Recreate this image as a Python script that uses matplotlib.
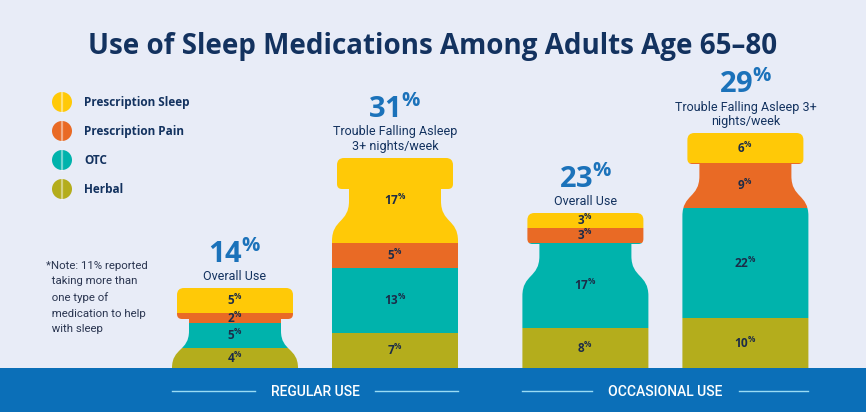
import matplotlib.pyplot as plt
from matplotlib.path import Path
from matplotlib.patches import PathPatch, Circle, Rectangle
from matplotlib.transforms import blended_transform_factory

plt.rcParams["mathtext.fontset"] = "custom"
plt.rcParams["mathtext.rm"] = "Open Sans:bold"
plt.rcParams["mathtext.bf"] = "Open Sans:bold"

# Data
series = ["Prescription Sleep", "Prescription Pain", "OTC", "Herbal"]
colors = ["#FFC907", "#E96A25", "#00B3AC", "#B4AD1C"]
groups = ["REGULAR USE", "OCCASIONAL USE"]
headline = ["14", "31", "23", "29"]
subtitles = ["Overall Use", "Trouble Falling Asleep\n3+ nights/week",
             "Overall Use", "Trouble Falling Asleep 3+\nnights/week"]
# values per bar, listed bottom to top: Herbal, OTC, Rx Pain, Rx Sleep
herbal = [4, 7, 8, 10]
otc = [5, 13, 17, 22]
rx_pain = [2, 5, 3, 9]
rx_sleep = [5, 17, 3, 6]

BG = "#E8ECF7"
NAVY = "#13325F"
BLUE = "#1B72BA"
BAND = "#0B6FB8"

W, H = 866, 412
band_top = 368
px_per_pct = 5.0
px_per_x = 160.0
x0_px = 235.0

fig = plt.figure(figsize=(W / 100, H / 100), dpi=100, facecolor=BG)
ax = fig.add_axes([0, (H - band_top) / H, 1, band_top / H])
ax.set_facecolor("none")
ax.set_xlim(-x0_px / px_per_x, (W - x0_px) / px_per_x)
ax.set_ylim(0, band_top / px_per_pct)
ax.axis("off")

# overlay in pixel coordinates for title, legend, note, band
ov = fig.add_axes([0, 0, 1, 1], zorder=-1)
ov.set_xlim(0, W)
ov.set_ylim(H, 0)
ov.axis("off")
ov.set_facecolor("none")

xpos = [0, 1, 2.19, 3.19]
width = 126 / px_per_x
sx = 1 / px_per_x
sy = 1 / px_per_pct


def pct(n):
    return r"$\mathrm{" + n + r"}^{\%}$"


def bottle(xc, top):
    # silhouette in pixel offsets (dx from centre, dy down from top)
    h = top / sy
    hb, hn, hc = 63, 46, 58
    cap_h, r, r2 = 31, 7, 5
    n_end = min(cap_h + 12, h)
    s_end = min(n_end + 40, h)
    c = (s_end - n_end) * 0.55
    pts = [((-hb, h), Path.MOVETO), ((-hb, s_end), Path.LINETO),
           ((-hb, s_end - c), Path.CURVE4), ((-hn, n_end + c), Path.CURVE4),
           ((-hn, n_end), Path.CURVE4), ((-hn, cap_h), Path.LINETO),
           ((-hc + r2, cap_h), Path.LINETO), ((-hc, cap_h), Path.CURVE3),
           ((-hc, cap_h - r2), Path.CURVE3), ((-hc, r), Path.LINETO),
           ((-hc, 0), Path.CURVE3), ((-hc + r, 0), Path.CURVE3),
           ((hc - r, 0), Path.LINETO), ((hc, 0), Path.CURVE3),
           ((hc, r), Path.CURVE3), ((hc, cap_h - r2), Path.LINETO),
           ((hc, cap_h), Path.CURVE3), ((hc - r2, cap_h), Path.CURVE3),
           ((hn, cap_h), Path.LINETO), ((hn, n_end), Path.LINETO),
           ((hn, n_end + c), Path.CURVE4), ((hb, s_end - c), Path.CURVE4),
           ((hb, s_end), Path.CURVE4), ((hb, h), Path.LINETO),
           ((-hb, h), Path.CLOSEPOLY)]
    verts = [(xc + dx * sx, top - dy * sy) for (dx, dy), _ in pts]
    codes = [cd for _, cd in pts]
    return Path(verts, codes)


stack = [herbal, otc, rx_pain, rx_sleep]
stack_colors = colors[::-1]
totals = [sum(v) for v in zip(*stack)]

clips = []
for i, xc in enumerate(xpos):
    patch = PathPatch(bottle(xc, totals[i]), transform=ax.transData,
                      facecolor="none", edgecolor="none")
    ax.add_patch(patch)
    clips.append(patch)

bottom = [0, 0, 0, 0]
for vals, col in zip(stack, stack_colors):
    bars = ax.bar(xpos, vals, width=width * 1.02, bottom=bottom, color=col,
                  linewidth=0)
    for i, rect in enumerate(bars):
        rect.set_clip_path(clips[i])
        yc = bottom[i] + vals[i] / 2
        ax.text(xpos[i], yc, pct(str(vals[i])), ha="center", va="center",
                fontsize=8.5, color="#1C2C48")
    bottom = [b + v for b, v in zip(bottom, vals)]

# headline numbers and subtitles above each bottle
for i, xc in enumerate(xpos):
    nlines = subtitles[i].count("\n") + 1
    ax.annotate(subtitles[i], xy=(xc, totals[i]), xytext=(0, 5),
                textcoords="offset pixels", ha="center", va="bottom",
                fontsize=9, color=NAVY, family="Roboto", linespacing=1.15)
    ax.annotate(pct(headline[i]), xy=(xc, totals[i]),
                xytext=(0, 10 + nlines * 15), textcoords="offset pixels",
                ha="center", va="baseline", fontsize=21, color=BLUE)

# title
ov.text(W / 2, 46, "Use of Sleep Medications Among Adults Age 65\u201380",
        ha="center", va="center", fontsize=20, fontweight="bold",
        color=NAVY, family="Open Sans")

# legend with pill icons
for k, (name, col) in enumerate(zip(series, colors)):
    yy = 102 + k * 29
    ov.add_patch(Circle((62, yy), 10, facecolor=col, edgecolor="none"))
    ov.plot([62, 62], [yy - 9.5, yy + 9.5], color="white", alpha=0.45, lw=1.6)
    ov.text(84, yy, name, ha="left", va="center", fontsize=8.5,
            fontweight="bold", color=NAVY, family="Open Sans")

# note
ov.text(46, 261, "*Note: 11% reported\n  taking more than\n  one type of\n"
        "  medication to help\n  with sleep", ha="left", va="top",
        fontsize=8.2, color="#2A3550", family="Roboto", linespacing=1.68)

# blue band with group labels
ov.add_patch(Rectangle((0, band_top), W, H - band_top, facecolor=BAND,
                       edgecolor="none"))
tr = blended_transform_factory(ax.transData, ov.transData)
half_gap = [0.375, 0.46]
for g, name in enumerate(groups):
    left = xpos[2 * g] - width / 2
    right = xpos[2 * g + 1] + width / 2
    mid = (left + right) / 2
    ax.text(mid, 392, name, transform=tr, ha="center", va="center",
            fontsize=10, color="white", family="Roboto", fontweight="medium")
    ax.plot([left, mid - half_gap[g]], [391, 391], transform=tr,
            color="#9ADCF5", lw=1, clip_on=False)
    ax.plot([mid + half_gap[g], right], [391, 391], transform=tr,
            color="#9ADCF5", lw=1, clip_on=False)

fig.savefig("out.png", dpi=100, facecolor=BG)
